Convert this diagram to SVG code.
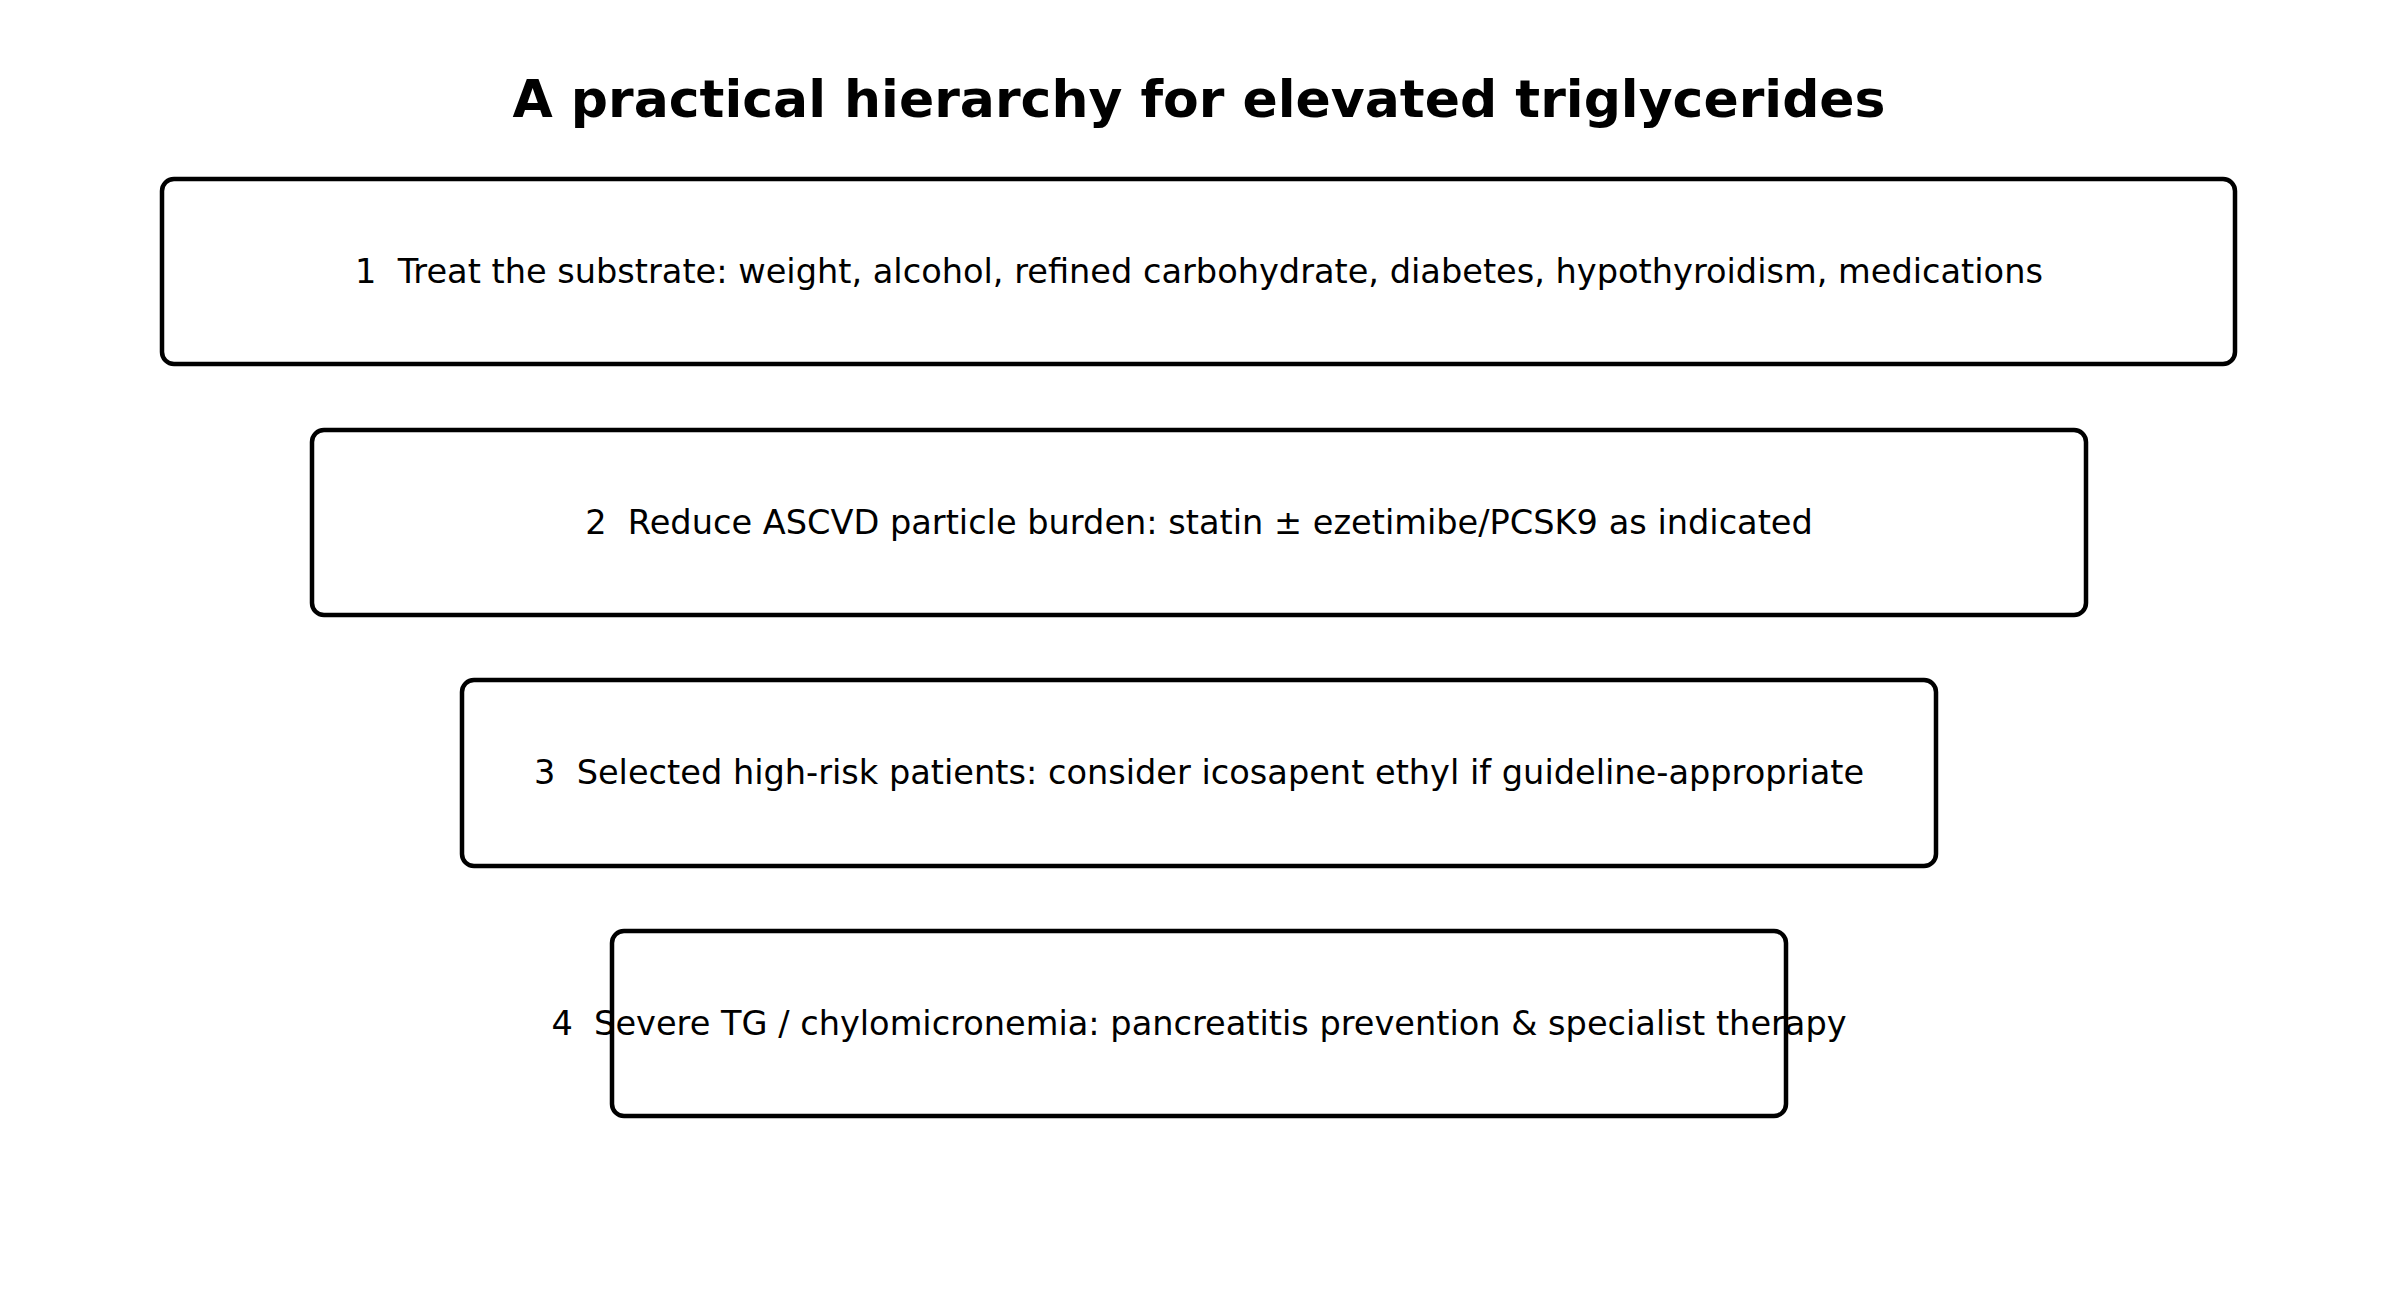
<svg xmlns="http://www.w3.org/2000/svg" width="2397" height="1297" viewBox="0 0 2397 1297">
<style>
.box{fill:#fff;stroke:#000;stroke-width:4.5}
.t{font-family:"DejaVu Sans",sans-serif;font-size:33.6px;text-anchor:middle;dominant-baseline:central;fill:#000;white-space:pre}
.title{font-family:"DejaVu Sans",sans-serif;font-size:52px;font-weight:bold;text-anchor:middle;dominant-baseline:central}
</style>
<rect width="2397" height="1297" fill="#fff"/>
<text class="title" x="1199" y="99">A practical hierarchy for elevated triglycerides</text>
<g id="connectors"/>
<g id="n1"><rect class="box" x="162" y="179" width="2073" height="185" rx="12"/><text class="t" x="1199" y="271" xml:space="preserve">1  Treat the substrate: weight, alcohol, refined carbohydrate, diabetes, hypothyroidism, medications</text></g>
<g id="n2"><rect class="box" x="312" y="430" width="1774" height="185" rx="12"/><text class="t" x="1199" y="522" xml:space="preserve">2  Reduce ASCVD particle burden: statin ± ezetimibe/PCSK9 as indicated</text></g>
<g id="n3"><rect class="box" x="462" y="680" width="1474" height="186" rx="12"/><text class="t" x="1199" y="772" xml:space="preserve">3  Selected high-risk patients: consider icosapent ethyl if guideline-appropriate</text></g>
<g id="n4"><rect class="box" x="612" y="931" width="1174" height="185" rx="12"/><text class="t" x="1199" y="1023" xml:space="preserve">4  Severe TG / chylomicronemia: pancreatitis prevention &amp; specialist therapy</text></g>
</svg>
